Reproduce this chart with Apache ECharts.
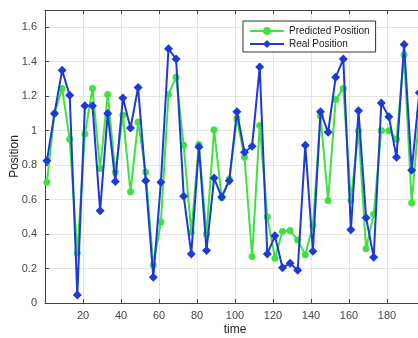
<!DOCTYPE html>
<html>
<head>
<meta charset="utf-8">
<script src="https://cdn.jsdelivr.net/npm/echarts@6/dist/echarts.min.js"></script>
<style>
  html, body { margin: 0; padding: 0; background: #fff; }
  #chart { width: 418px; height: 338px; }
</style>
</head>
<body>
<div id="chart"></div>
<script>
// sample times: one every 4 units, starting at 1
const times = [1, 5, 9, 13, 17, 21, 25, 29, 33, 37, 41, 45, 49, 53, 57, 61, 65, 69, 73, 77,
  81, 85, 89, 93, 97, 101, 105, 109, 113, 117, 121, 125, 129, 133, 137, 141, 145, 149, 153, 157,
  161, 165, 169, 173, 177, 181, 185, 189, 193, 197]

const predicted = [0.70, 1.10, 1.245, 0.95, 0.29, 0.98, 1.245, 0.78, 1.21, 0.76,
  1.09, 0.645, 1.05, 0.76, 0.22, 0.47, 1.21, 1.31, 0.915, 0.41,
  0.92, 0.40, 1.005, 0.61, 0.72, 1.07, 0.845, 0.27, 1.03, 0.50,
  0.26, 0.415, 0.42, 0.365, 0.28, 0.45, 1.085, 0.595, 1.18, 1.245,
  0.595, 1.00, 0.315, 0.515, 1.00, 1.00, 0.95, 1.44, 0.58, 1.10]

const real = [0.825, 1.10, 1.35, 1.205, 0.047, 1.145, 1.145, 0.535, 1.10, 0.705,
  1.19, 1.015, 1.25, 0.71, 0.15, 0.70, 1.475, 1.415, 0.62, 0.285,
  0.905, 0.305, 0.725, 0.615, 0.71, 1.11, 0.875, 0.91, 1.37, 0.285,
  0.39, 0.205, 0.23, 0.19, 0.915, 0.30, 1.11, 0.99, 1.31, 1.415,
  0.425, 1.115, 0.495, 0.265, 1.16, 1.08, 0.845, 1.50, 0.77, 1.22]

const green = "#3fe23f"
const blue = "#1c3ad8"
const font = "Liberation Sans, Arial, sans-serif"

const chart = echarts.init(document.getElementById("chart"), null, { renderer: "canvas" })

const pairs = (ys) => times.map((t, i) => [t, ys[i]])

const option = {
  animation: false,
  backgroundColor: "#fff",
  // plot runs past the right edge of the picture, like the cropped original
  grid: { left: 45, top: 10, width: 380, height: 293, containLabel: false, outerBoundsMode: "none" },
  legend: {
    orient: "vertical",
    left: 243,
    top: 21,
    width: 130,
    padding: [5, 6, 3, 6],
    itemWidth: 34,
    itemHeight: 10,
    itemGap: 3,
    backgroundColor: "#fff",
    borderColor: "#333",
    borderWidth: 1,
    borderRadius: 0,
    textStyle: { fontFamily: font, fontSize: 10, color: "#222" },
    data: ["Predicted Position", "Real Position"],
  },
  xAxis: [
    {
      type: "value",
      min: 0,
      max: 200,
      interval: 20,
      name: "time",
      nameLocation: "middle",
      nameGap: 21,
      nameMoveOverlap: false,
      nameTextStyle: { fontFamily: font, fontSize: 12, color: "#222" },
      axisLine: { show: true, lineStyle: { color: "#444", width: 1 } },
      axisTick: { show: true, inside: true, length: 4, lineStyle: { color: "#444" } },
      axisLabel: { showMinLabel: false, showMaxLabel: false, fontFamily: font, fontSize: 11, color: "#444", margin: 7 },
      splitLine: { show: true, lineStyle: { color: "#e4e4e4", width: 1 } },
    },
    {
      type: "value",
      position: "top",
      min: 0,
      max: 200,
      interval: 20,
      axisLine: { show: true, lineStyle: { color: "#444", width: 1 } },
      axisTick: { show: true, inside: true, length: 4, lineStyle: { color: "#444" } },
      axisLabel: { show: false },
      splitLine: { show: false },
    },
  ],
  yAxis: {
    type: "value",
    min: 0,
    max: 1.7,
    interval: 0.2,
    name: "Position",
    nameLocation: "middle",
    nameGap: 24,
    nameMoveOverlap: false,
    nameTextStyle: { fontFamily: font, fontSize: 12, color: "#222" },
    axisLine: { show: true, lineStyle: { color: "#444", width: 1 } },
    axisTick: { show: true, inside: true, length: 4, lineStyle: { color: "#444" } },
    axisLabel: {
      fontFamily: font,
      fontSize: 11,
      color: "#444",
      margin: 8,
      formatter: (v) => (v > 1.65 ? "" : String(Math.round(v * 10) / 10)),
    },
    splitLine: { show: true, lineStyle: { color: "#e4e4e4", width: 1 } },
  },
  series: [
    {
      name: "Predicted Position",
      type: "line",
      data: pairs(predicted),
      symbol: "circle",
      symbolSize: 7,
      showAllSymbol: true,
      clip: true,
      lineStyle: { color: green, width: 2 },
      itemStyle: { color: green },
      z: 2,
    },
    {
      name: "Real Position",
      type: "line",
      data: pairs(real),
      symbol: "diamond",
      symbolSize: 9,
      showAllSymbol: true,
      clip: true,
      lineStyle: { color: blue, width: 2 },
      itemStyle: { color: blue },
      z: 3,
    },
  ],
}

chart.setOption(option)
</script>
</body>
</html>
